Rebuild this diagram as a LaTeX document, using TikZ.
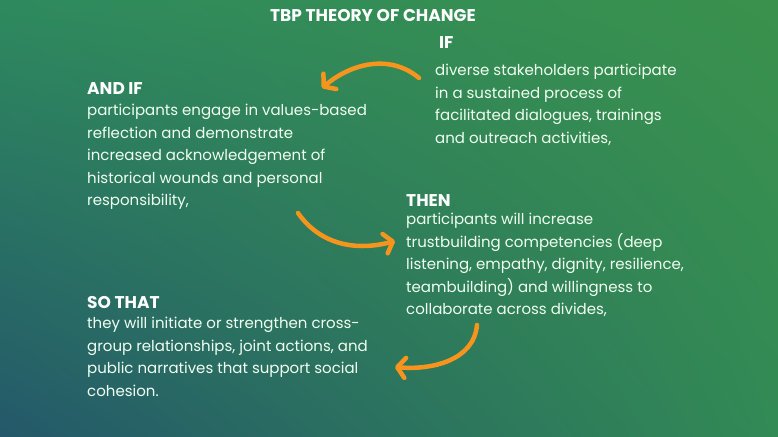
\documentclass[tikz,border=0pt]{standalone}
\usepackage{fontspec}
\setmainfont{Poppins}
\usepackage{tikz}
\usetikzlibrary{arrows.meta,calc,positioning,shadings}
\definecolor{bgtl}{HTML}{2E8A5E}
\definecolor{bgtr}{HTML}{3A914C}
\definecolor{bgbl}{HTML}{24586A}
\definecolor{bgbr}{HTML}{328A55}
\definecolor{tbporange}{HTML}{F7941D}
\tikzstyle{head}=[inner sep=0pt, anchor=west, text=white,
                  font=\fontsize{17bp}{20bp}\selectfont\bfseries]
\tikzstyle{body}=[inner sep=0pt, anchor=north west, align=left,
                  text=white!94!green,
                  font=\fontsize{15bp}{22.5bp}\selectfont]
\tikzstyle{curl}=[draw=tbporange, line width=4.5bp, line cap=round,
                  -{Straight Barb[length=8bp, width=20bp, round]}]

\begin{document}
\begin{tikzpicture}[x=1bp, y=1bp, node distance=6bp]
    \shade[upper left=bgtl, upper right=bgtr, lower left=bgbl,
           lower right=bgbr] (0,0) rectangle (778,437);
    \useasboundingbox (0,0) rectangle (778,437);
    % title
    \node (title) [head, anchor=center] at (373,421) {TBP THEORY OF CHANGE};
    % the four steps
    \node (if) [head] at (439,394) {IF};
    \node (ifbody) [body] at (435,373) {diverse stakeholders participate\\
        in a sustained process of\\facilitated dialogues, trainings\\
        and outreach activities,};
    \node (andif) [head] at (87,348) {AND IF};
    \node (andifbody) [body] at (87,333) {participants engage in values-based\\
        reflection and demonstrate\\increased acknowledgement of\\
        historical wounds and personal\\responsibility,};
    \node (then) [head] at (406,236) {THEN};
    \node (thenbody) [body] at (406,224) {participants will increase\\
        trustbuilding competencies (deep\\listening, empathy, dignity, resilience,\\
        teambuilding) and willingness to\\collaborate across divides,};
    \node (sothat) [head] at (87,134) {SO THAT};
    \node (sothatbody) [body] at (87,120) {they will initiate or strengthen cross-\\
        group relationships, joint actions, and\\public narratives that support social\\
        cohesion.};
    % arrows
    \coordinate (a1) at (419,359);
    \coordinate (b1) at (322,349);
    \coordinate (a2) at (298,224);
    \coordinate (b2) at (395,196);
    \coordinate (a3) at (477,112);
    \coordinate (b3) at (395,70);
    \draw[curl] (a1) to[out=140, in=40] (b1);
    \draw[curl] (a2) to[out=-55, in=195] (b2);
    \draw[curl] (a3) to[out=-95, in=-5] (b3);
\end{tikzpicture}
\end{document}
